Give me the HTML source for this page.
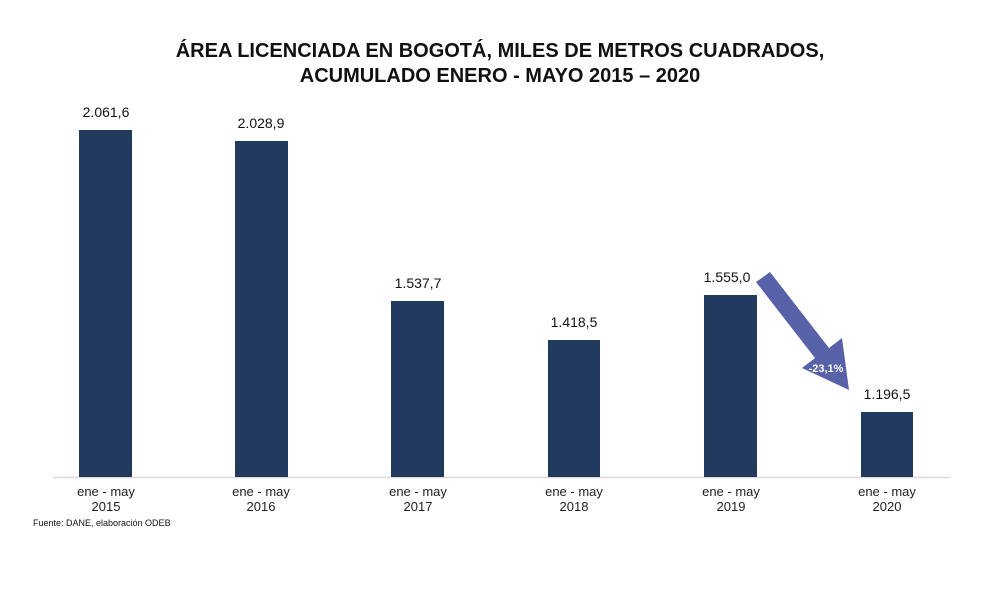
<!DOCTYPE html>
<html><head><meta charset="utf-8"><style>
body{margin:0;background:#fff;}
svg text{font-family:"Liberation Sans",sans-serif;}
</style></head><body>
<svg width="1000" height="593" viewBox="0 0 1000 593" xmlns="http://www.w3.org/2000/svg">
<rect width="1000" height="593" fill="#fff"/>
<text x="500" y="57" text-anchor="middle" font-size="20" font-weight="bold" fill="#111">ÁREA LICENCIADA EN BOGOTÁ, MILES DE METROS CUADRADOS,</text>
<text x="500" y="82" text-anchor="middle" font-size="20" font-weight="bold" fill="#111">ACUMULADO ENERO - MAYO 2015 – 2020</text>
<line x1="53" y1="477.5" x2="950" y2="477.5" stroke="#d9d9d9" stroke-width="1.5"/>
<g fill="#213a5e">
<rect x="79" y="130" width="53" height="347"/>
<rect x="235" y="141" width="53" height="336"/>
<rect x="391" y="301" width="53" height="176"/>
<rect x="548" y="340" width="52" height="137"/>
<rect x="704" y="295" width="53" height="182"/>
<rect x="861" y="412" width="52" height="65"/>
</g>
<g font-size="14" fill="#111" text-anchor="middle">
<text x="106" y="117">2.061,6</text>
<text x="261" y="128">2.028,9</text>
<text x="418" y="288">1.537,7</text>
<text x="574" y="327">1.418,5</text>
<text x="727" y="282">1.555,0</text>
<text x="887" y="399">1.196,5</text>
</g>
<g font-size="13" fill="#222" text-anchor="middle">
<text x="106" y="496">ene - may</text><text x="106" y="511">2015</text>
<text x="261" y="496">ene - may</text><text x="261" y="511">2016</text>
<text x="418" y="496">ene - may</text><text x="418" y="511">2017</text>
<text x="574" y="496">ene - may</text><text x="574" y="511">2018</text>
<text x="731" y="496">ene - may</text><text x="731" y="511">2019</text>
<text x="887" y="496">ene - may</text><text x="887" y="511">2020</text>
</g>
<text x="33" y="526" font-size="9" fill="#111">Fuente: DANE, elaboración ODEB</text>
<polygon points="756,282 770,272 829,348 842,338 849,390 802,368 815,358" fill="#5862a8"/>
<text x="826" y="372" text-anchor="middle" font-size="11" font-weight="bold" fill="#fff">-23,1%</text>
</svg>
</body></html>
